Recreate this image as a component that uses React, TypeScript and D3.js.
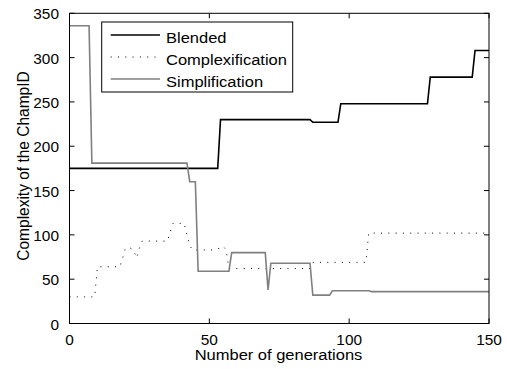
import React from "react";
import * as d3 from "d3";

// Champion complexity per generation, stored as plateau breakpoints [generation, complexity]
const blended: [number, number][] = [
  [0, 175], [53, 175], [54, 230], [86, 230], [87, 227], [96, 227], [97, 248],
  [128, 248], [129, 278], [144, 278], [145, 308], [150, 308],
];
const complexification: [number, number][] = [
  [0, 30], [9, 30], [10, 64], [18, 64], [19, 74], [20, 85], [22, 85], [23, 82],
  [24, 74], [25, 85], [26, 93], [35, 93], [36, 103], [37, 113], [41, 113],
  [42, 100], [43, 88], [44, 83], [51, 83], [54, 85], [55, 87], [56, 83],
  [57, 62], [86, 62], [87, 69], [106, 69], [107, 102], [150, 102],
];
const simplification: [number, number][] = [
  [0, 336], [7, 336], [8, 181], [42, 181], [43, 160], [45, 160], [46, 59],
  [57, 59], [58, 80], [70, 80], [71, 38], [72, 68], [86, 68], [87, 32],
  [93, 32], [94, 37], [107, 37], [108, 36], [150, 36],
];

const seriesNames = ["Blended", "Complexification", "Simplification"];
const xTicks = [0, 50, 100, 150];
const yTicks = [0, 50, 100, 150, 200, 250, 300, 350];

const W = 507;
const H = 369;
const left = 69.5;
const right = 489;
const top = 13.3;
const bottom = 323.5;
const font = "'Liberation Sans', Arial, Helvetica, sans-serif";
const stretch = 1.1; // text is drawn slightly wide

type LabelProps = {
  x: number;
  y: number;
  size: number;
  anchor?: "start" | "middle" | "end";
  rotate?: number;
  children: React.ReactNode;
};

function Label({ x, y, size, anchor = "start", rotate = 0, children }: LabelProps) {
  return (
    <text
      transform={`translate(${x},${y}) scale(${stretch},1) rotate(${rotate})`}
      textAnchor={anchor}
      fontSize={size}
      fill="#000"
    >
      {children}
    </text>
  );
}

export default function App() {
  const x = d3.scaleLinear().domain([0, 150]).range([left, right]);
  const y = d3.scaleLinear().domain([0, 350]).range([bottom, top]);
  const line = d3
    .line<[number, number]>()
    .x((d) => x(d[0]))
    .y((d) => y(d[1]));

  const styles = [
    { data: blended, stroke: "#000", dash: undefined as string | undefined, width: 1.6 },
    { data: complexification, stroke: "#000", dash: "1,6.3", width: 1 },
    { data: simplification, stroke: "#808080", dash: undefined, width: 1.6 },
  ];

  const tickLen = 5;
  const legX = 101.7;
  const legY = 22;
  const legW = 191;
  const legH = 70;

  return (
    <svg
      width={W}
      height={H}
      style={{ position: "absolute", left: 0, top: 0, background: "#fff" }}
      fontFamily={font}
    >
      <rect x={0} y={0} width={W} height={H} fill="#fff" />
      {styles.map((s, i) => (
        <path
          key={i}
          d={line(s.data) ?? ""}
          fill="none"
          stroke={s.stroke}
          strokeWidth={s.width}
          strokeDasharray={s.dash}
        />
      ))}

      {/* axes box */}
      <rect
        x={left}
        y={top}
        width={right - left}
        height={bottom - top}
        fill="none"
        stroke="#000"
        strokeWidth={1}
      />
      {xTicks.map((t) => (
        <g key={"x" + t}>
          <line x1={x(t)} x2={x(t)} y1={bottom} y2={bottom - tickLen} stroke="#000" />
          <line x1={x(t)} x2={x(t)} y1={top} y2={top + tickLen} stroke="#000" />
          <Label x={x(t)} y={bottom + 21.5} size={14} anchor="middle">
            {t}
          </Label>
        </g>
      ))}
      {yTicks.map((t) => (
        <g key={"y" + t}>
          <line x1={left} x2={left + tickLen} y1={y(t)} y2={y(t)} stroke="#000" />
          <line x1={right} x2={right - tickLen} y1={y(t)} y2={y(t)} stroke="#000" />
          <Label x={left - 10.5} y={y(t) + 6} size={14} anchor="end">
            {t}
          </Label>
        </g>
      ))}
      <Label x={278.5} y={360} size={15} anchor="middle">
        Number of generations
      </Label>
      <Label x={28.5} y={166} size={15.5} anchor="middle" rotate={-90}>
        Complexity of the ChampID
      </Label>

      {/* legend */}
      <rect x={legX} y={legY} width={legW} height={legH} fill="#fff" stroke="#000" strokeWidth={1} />
      {seriesNames.map((name, i) => {
        const yy = legY + 13 + i * 22;
        const s = styles[i];
        return (
          <g key={name}>
            <line
              x1={110.7}
              x2={160}
              y1={yy}
              y2={yy}
              stroke={s.stroke}
              strokeWidth={s.width}
              strokeDasharray={s.dash}
            />
            <Label x={166} y={yy + 7.5} size={15}>
              {name}
            </Label>
          </g>
        );
      })}
    </svg>
  );
}
